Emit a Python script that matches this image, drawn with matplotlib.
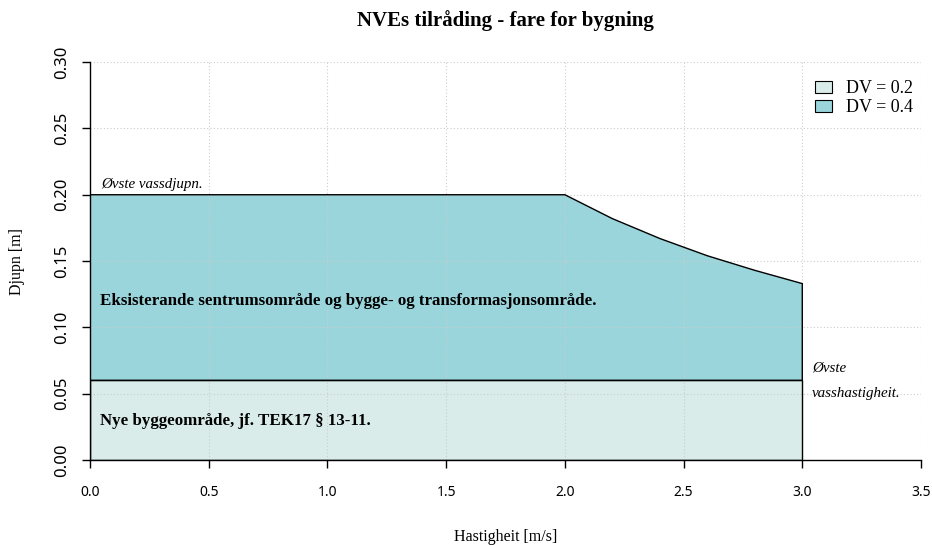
import matplotlib

matplotlib.use("Agg")
import matplotlib.pyplot as plt
from matplotlib.patches import Patch

plt.rcParams["font.family"] = ["Liberation Serif", "DejaVu Serif"]

# DV = 0.2 band (nye byggeområde)
low_v = [0.0, 3.0, 3.0, 0.0]
low_d = [0.0, 0.0, 0.06, 0.06]

# DV = 0.4 band: flat at max depth, then the DV curve
high_v = [0.0, 3.0, 3.0, 2.8, 2.6, 2.4, 2.2, 2.0, 0.0]
high_d = [0.06, 0.06, 0.133, 0.143, 0.154, 0.167, 0.182, 0.200, 0.200]

legend_labels = ["DV = 0.2", "DV = 0.4"]
colors = ["#d9ecea", "#9ad5dc"]

x_ticks = [0.0, 0.5, 1.0, 1.5, 2.0, 2.5, 3.0, 3.5]
y_ticks = [0.00, 0.05, 0.10, 0.15, 0.20, 0.25, 0.30]

fig = plt.figure(figsize=(9.32, 5.45), dpi=100)
ax = fig.add_axes([0.0966, 0.156, 0.8916, 0.730])

# fills first, dotted grid over them, outlines on top
ax.fill(low_v, low_d, facecolor=colors[0], edgecolor="none", zorder=1)
ax.fill(high_v, high_d, facecolor=colors[1], edgecolor="none", zorder=1)
for xv in x_ticks[1:]:
    ax.axvline(xv, color="#cccccc", linestyle=(0, (1, 2)), linewidth=0.8, zorder=2)
for yv in y_ticks[1:]:
    ax.axhline(yv, color="#cccccc", linestyle=(0, (1, 2)), linewidth=0.8, zorder=2)
ax.fill(low_v, low_d, facecolor="none", edgecolor="black", linewidth=1.0, zorder=3)
ax.fill(high_v, high_d, facecolor="none", edgecolor="black", linewidth=1.0, zorder=3)

ax.set_xlim(0, 3.5)
ax.set_ylim(0, 0.30)
ax.set_xticks(x_ticks)
ax.set_xticklabels([f"{v:.1f}" for v in x_ticks],
                   fontdict={"family": ["Noto Sans", "DejaVu Sans"], "size": 10})
ax.set_yticks(y_ticks)
ax.set_yticklabels([f"{v:.2f}" for v in y_ticks],
                   fontdict={"family": ["Noto Sans", "DejaVu Sans"], "size": 12},
                   rotation=90, va="center")
ax.tick_params(direction="out", length=6, width=1.0, pad=12)
ax.tick_params(axis="y", pad=8)
for side in ("top", "right"):
    ax.spines[side].set_visible(False)
for side in ("left", "bottom"):
    ax.spines[side].set_linewidth(1.0)
    ax.spines[side].set_zorder(4)

ax.set_xlabel("Hastigheit [m/s]", fontsize=11.5, labelpad=21)
ax.set_ylabel("Djupn [m]", fontsize=11.5, labelpad=21)
fig.text(0.5424, 0.963, "NVEs tilråding - fare for bygning", fontsize=15,
         fontweight="bold", ha="center", va="center")

ax.text(0.045, 0.208, "Øvste vassdjupn.", fontsize=10.8, style="italic", va="center", zorder=5)
ax.text(0.042, 0.12, "Eksisterande sentrumsområde og bygge- og transformasjonsområde.",
        fontsize=12.2, fontweight="bold", va="center", zorder=5)
ax.text(0.042, 0.0294, "Nye byggeområde, jf. TEK17 § 13-11.",
        fontsize=12.2, fontweight="bold", va="center", zorder=5)
ax.text(3.04, 0.0693, "Øvste", fontsize=10.8, style="italic", va="center", zorder=5)
ax.text(3.04, 0.0505, "vasshastigheit.", fontsize=10.8, style="italic", va="center", zorder=5)

handles = [Patch(facecolor=c, edgecolor="black", linewidth=0.8) for c in colors]
ax.legend(handles, legend_labels, loc="upper right", frameon=False, fontsize=13,
          handlelength=0.9, handleheight=0.7, handletextpad=0.8, labelspacing=0.1,
          bbox_to_anchor=(1.01, 0.995))

fig.savefig("out.png", dpi=100)
